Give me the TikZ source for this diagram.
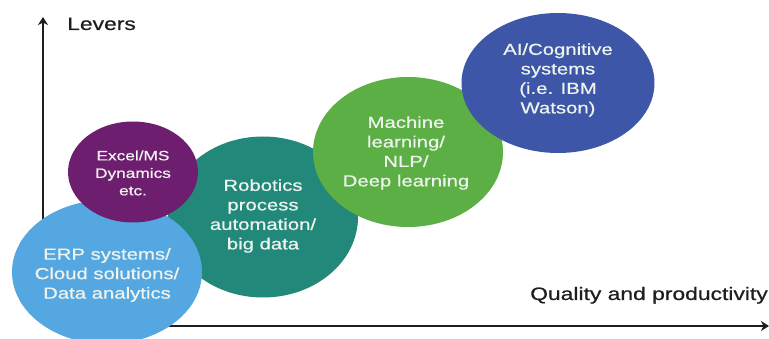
\documentclass[tikz,border=0pt]{standalone}
\usepackage{fontspec}
\setmainfont{Liberation Sans}[FakeStretch=1.27,FakeBold=0.7]
\usetikzlibrary{shapes.geometric,arrows.meta}
\definecolor{erpblue}{HTML}{55A7E2}
\definecolor{excelpurple}{HTML}{6E1E6E}
\definecolor{rpateal}{HTML}{22897A}
\definecolor{mlgreen}{HTML}{5BAF45}
\definecolor{aiblue}{HTML}{3D56A8}
\definecolor{txtlight}{HTML}{EEF3EE}
\definecolor{axisgray}{HTML}{1E1E1E}
\tikzset{
  blob/.style={ellipse, draw=none, inner sep=0pt},
  blobtext/.style={align=center, text=txtlight, inner sep=0pt,
    font=\fontsize{16}{19.5}\selectfont},
  smalltext/.style={align=center, text=txtlight, inner sep=0pt,
    font=\fontsize{13.6}{17.5}\selectfont},
  axis/.style={draw=axisgray, line width=1.8pt,
    -{Stealth[length=8pt,width=10pt,inset=2.5pt]}},
  axislabel/.style={text=axisgray, inner sep=0pt,
    font=\fontsize{18}{21}\selectfont}
}
\begin{document}
\begin{tikzpicture}[x=1pt,y=-1pt]
\useasboundingbox (0,0) rectangle (769,339);
% axes
\coordinate (ybot) at (43,240);
\coordinate (ytop) at (43,17);
\coordinate (xleft) at (150,326);
\coordinate (xright) at (769,326);
\draw[axis] (ybot) -- (ytop);
\draw[axis] (xleft) -- (xright);
\node[axislabel, anchor=base west] (levers) at (67,30) {Levers};
\node[axislabel, anchor=base east] (quality) at (768,300) {Quality and productivity};
% ellipses
\node[blob, fill=rpateal, minimum width=190pt, minimum height=161pt] (rpa) at (263,217) {};
\node[blob, fill=mlgreen, minimum width=190pt, minimum height=150pt] (ml) at (408,152) {};
\node[blob, fill=aiblue, minimum width=193pt, minimum height=140pt] (ai) at (558,83) {};
\node[blob, fill=erpblue, minimum width=190pt, minimum height=144pt] (erp) at (107,272) {};
\node[blob, fill=excelpurple, minimum width=130pt, minimum height=101pt] (excel) at (133,172) {};
% texts
\node[blobtext] (rpat) at (263,216) {Robotics\\process\\automation/\\big data};
\node[blobtext] (mlt) at (406,153) {Machine\\learning/\\NLP/\\Deep learning};
\node[blobtext] (ait) at (558,80) {AI/Cognitive\\systems\\(i.e. IBM\\Watson)};
\node[blobtext] (erpt) at (107,275) {ERP systems/\\Cloud solutions/\\Data analytics};
\node[smalltext] (excelt) at (133,173) {Excel/MS\\Dynamics\\etc.};
\end{tikzpicture}
\end{document}
